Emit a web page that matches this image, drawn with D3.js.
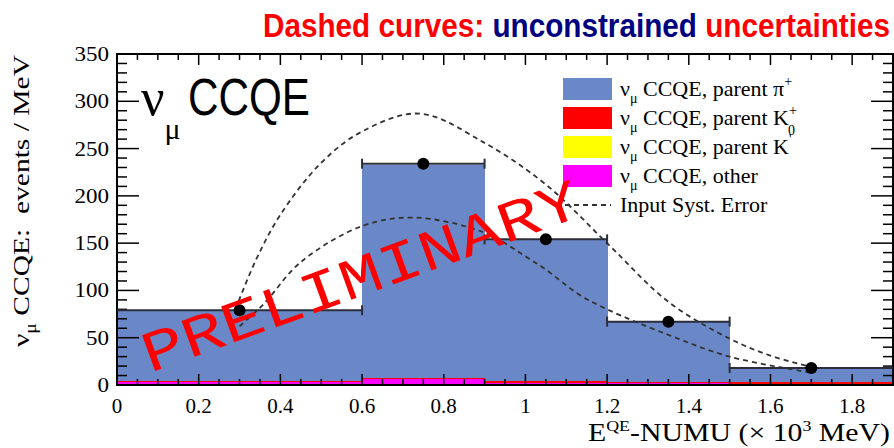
<!DOCTYPE html>
<html>
<head>
<meta charset="utf-8">
<script src="https://cdn.jsdelivr.net/npm/d3@7"></script>
<style>
  body { margin: 0; background: #fff; }
  svg { display: block; }
</style>
</head>
<body>
<div id="chart"></div>
<script>
// bin edges (x 10^3 MeV) and stacked components per bin
var binEdges = [0, 0.6, 0.9, 1.2, 1.5, 1.9];
var otherVals = [3, 6, 2.5, 1.8, 0.5];
var kZeroVals = [0, 0, 0, 0, 0];
var kPlusVals = [1, 1, 1.4, 1.8, 2.5];
var piPlusVals = [75, 226, 149.1, 63.4, 15];

// data points
var pointX = [0.3, 0.75, 1.05, 1.35, 1.7];
var pointY = [79, 234, 154, 67, 18];

// dashed "input syst. error" curves
var upperX = [0.29, 0.34, 0.4, 0.5, 0.6, 0.74, 0.9, 1.05, 1.2, 1.35, 1.5, 1.6, 1.7];
var upperY = [80, 132, 180, 235, 268, 287, 256, 212, 150, 88, 49, 31, 19];
var lowerX = [0.3, 0.36, 0.45, 0.6, 0.73, 0.9, 1.0, 1.05, 1.13, 1.2, 1.35, 1.5, 1.7];
var lowerY = [62, 86, 130, 168, 177, 161, 136, 122, 96, 80, 53, 30, 13];

var xTicks = [0, 0.2, 0.4, 0.6, 0.8, 1, 1.2, 1.4, 1.6, 1.8];
var yTicks = [0, 50, 100, 150, 200, 250, 300, 350];

var width = 894,
    height = 448,
    margin = {top: 54, right: 1, bottom: 63, left: 117};

var svg = d3.select("#chart")
    .append("svg")
    .attr("width", width)
    .attr("height", height);

var x = d3.scaleLinear().domain([0, 1.9]).range([margin.left, width - margin.right]);
var y = d3.scaleLinear().domain([0, 350]).range([height - margin.bottom, margin.top]);

var serif = "'Liberation Serif', 'DejaVu Serif', serif";
var sans = "'Liberation Sans', Arial, sans-serif";

var blue = "#6a88c7";

// stacked histogram, bottom to top: other, K0, K+, pi+
var layers = [
    {vals: otherVals, color: "#ff00ff"},
    {vals: kZeroVals, color: "#ffff00"},
    {vals: kPlusVals, color: "#ff0000"},
    {vals: piPlusVals, color: blue}
];
var bins = d3.range(binEdges.length - 1).map(i => {
    var b = {i: i, x0: binEdges[i], x1: binEdges[i + 1], parts: []};
    var base = 0;
    layers.forEach(l => {
        b.parts.push({y0: base, y1: base + l.vals[i], color: l.color});
        base += l.vals[i];
    });
    return b;
});

var histo = svg.append("g").attr("id", "histo").attr("shape-rendering", "crispEdges");
[3, 2, 1, 0].forEach(li => {
    histo.selectAll(null)
        .data(bins)
        .enter()
        .append("rect")
        .attr("x", d => x(d.x0))
        .attr("width", d => x(d.x1) - x(d.x0) + 0.5)
        .attr("y", d => y(d.parts[li].y1))
        .attr("height", d => Math.max(0, y(d.parts[li].y0) - y(d.parts[li].y1)))
        .attr("fill", layers[li].color);
});

// axis ticks (inside, on all four sides)
var frame = svg.append("g").attr("stroke", "#000");
var xMinor = d3.range(0, 1.9001, 0.05);
xMinor.forEach(v => {
    var major = Math.abs(v / 0.2 - Math.round(v / 0.2)) < 1e-6;
    var len = major ? 11 : 6;
    frame.append("line").attr("x1", x(v)).attr("x2", x(v))
        .attr("y1", y(0)).attr("y2", y(0) - len).attr("stroke-width", 1.5);
    frame.append("line").attr("x1", x(v)).attr("x2", x(v))
        .attr("y1", y(350)).attr("y2", y(350) + len).attr("stroke-width", 1.5);
});
d3.range(0, 351, 10).forEach(v => {
    var len = v % 50 === 0 ? 22 : 10;
    frame.append("line").attr("x1", x(0)).attr("x2", x(0) + len)
        .attr("y1", y(v)).attr("y2", y(v)).attr("stroke-width", 1.5);
    frame.append("line").attr("x1", x(1.9)).attr("x2", x(1.9) - len)
        .attr("y1", y(v)).attr("y2", y(v)).attr("stroke-width", 1.5);
});
frame.append("rect")
    .attr("x", x(0)).attr("y", y(350))
    .attr("width", x(1.9) - x(0)).attr("height", y(0) - y(350))
    .attr("fill", "none").attr("stroke-width", 2);

// tick labels
svg.append("g").selectAll("text")
    .data(xTicks)
    .enter()
    .append("text")
    .attr("x", d => x(d))
    .attr("y", 413)
    .attr("text-anchor", "middle")
    .attr("font-family", serif)
    .attr("font-size", "21px")
    .text(d => d);

svg.append("g").selectAll("text")
    .data(yTicks)
    .enter()
    .append("text")
    .attr("x", 109)
    .attr("y", d => y(d) + 7)
    .attr("text-anchor", "end")
    .attr("font-family", serif)
    .attr("font-size", "21px")
    .attr("textLength", d => String(d).length * 11.5)
    .attr("lengthAdjust", "spacingAndGlyphs")
    .text(d => d);

// dashed curves
var line = d3.line()
    .x(d => x(d[0]))
    .y(d => y(d[1]))
    .curve(d3.curveCatmullRom);
[[upperX, upperY], [lowerX, lowerY]].forEach(c => {
    svg.append("path")
        .datum(c[0].map((v, i) => [v, c[1][i]]))
        .attr("d", line)
        .attr("fill", "none")
        .attr("stroke", "#333")
        .attr("stroke-width", 1.8)
        .attr("stroke-dasharray", "5,4");
});

// data points with horizontal bin-width bars
var pts = svg.append("g").attr("id", "points");
pointX.forEach((px, i) => {
    var x0 = binEdges[i], x1 = binEdges[i + 1];
    pts.append("line")
        .attr("x1", x(x0)).attr("x2", x(x1))
        .attr("y1", y(pointY[i])).attr("y2", y(pointY[i]))
        .attr("stroke", "#2b2d3a").attr("stroke-width", 2);
    [x0, x1].forEach(e => {
        if (e === 0 || e === 1.9) return;
        pts.append("line")
            .attr("x1", x(e)).attr("x2", x(e))
            .attr("y1", y(pointY[i]) - 5).attr("y2", y(pointY[i]) + 5)
            .attr("stroke", "#2b2d3a").attr("stroke-width", 2);
    });
    pts.append("circle")
        .attr("cx", x(px)).attr("cy", y(pointY[i]))
        .attr("r", 6).attr("fill", "#000");
});

// legend
var legendRows = [
    {color: blue, label: "parent \u03c0", sup: "+"},
    {color: "#ff0000", label: "parent K", sup: "+", sub: "0"},
    {color: "#ffff00", label: "parent K", sup: "'"},
    {color: "#ff00ff", label: "other"}
];
var legend = svg.append("g").attr("class", "legend")
    .attr("font-family", serif).attr("font-size", "22px");
legendRows.forEach((r, i) => {
    var cy = 89 + i * 29;
    legend.append("rect")
        .attr("x", 563).attr("y", cy - 11)
        .attr("width", 49).attr("height", 22)
        .attr("fill", r.color);
    var t = legend.append("text").attr("x", 620).attr("y", cy + 7);
    t.append("tspan").text("\u03bd");
    t.append("tspan").attr("dy", 7).attr("font-size", "14px").text("\u03bc");
    t.append("tspan").attr("dy", -7).text(" CCQE, " + r.label);
    if (r.sup) t.append("tspan").attr("dy", -10).attr("font-size", "14px").text(r.sup);
    if (r.sub) t.append("tspan").attr("dx", -9).attr("dy", 20).attr("font-size", "14px").text(r.sub);
});
legend.append("line")
    .attr("x1", 565).attr("x2", 611)
    .attr("y1", 205).attr("y2", 205)
    .attr("stroke", "#333").attr("stroke-width", 1.8)
    .attr("stroke-dasharray", "5,4");
legend.append("text").attr("x", 620).attr("y", 212).text("Input Syst. Error");

// big nu_mu CCQE label
var big = svg.append("text").attr("x", 141).attr("y", 115);
big.append("tspan").attr("font-family", serif).attr("font-size", "52px").text("\u03bd");
big.append("tspan").attr("font-family", serif).attr("font-size", "30px")
    .attr("dy", 24).text("\u03bc");
big.append("tspan").attr("x", 188).attr("dy", -24)
    .attr("font-family", sans).attr("font-size", "52px")
    .attr("textLength", 122).attr("lengthAdjust", "spacingAndGlyphs")
    .text("CCQE");

// y axis title
var yt = svg.append("text")
    .attr("transform", "translate(29,347) rotate(-90)")
    .attr("font-family", serif).attr("font-size", "24px")
    .attr("textLength", 292).attr("lengthAdjust", "spacingAndGlyphs");
yt.append("tspan").text("\u03bd");
yt.append("tspan").attr("dy", 7).attr("font-size", "16px").text("\u03bc");
yt.append("tspan").attr("dy", -7).text("\u00a0CCQE:\u00a0\u00a0events / MeV");

// x axis title
var xt = svg.append("text")
    .attr("x", 890).attr("y", 441)
    .attr("text-anchor", "end")
    .attr("font-family", serif).attr("font-size", "25px")
    .attr("textLength", 302).attr("lengthAdjust", "spacingAndGlyphs");
xt.append("tspan").text("E");
xt.append("tspan").attr("dy", -10).attr("font-size", "15px").text("QE");
xt.append("tspan").attr("dy", 10).text("-NUMU (\u00d7 10");
xt.append("tspan").attr("dy", -10).attr("font-size", "15px").text("3");
xt.append("tspan").attr("dy", 10).text(" MeV)");

// PRELIMINARY stamp
svg.append("text")
    .attr("transform", "translate(150,373) rotate(-20)")
    .attr("font-family", "'Liberation Mono', 'DejaVu Sans Mono', monospace")
    .attr("font-size", "58px")
    .attr("fill", "#ff0000")
    .attr("textLength", 462)
    .attr("lengthAdjust", "spacingAndGlyphs")
    .text("PRELIMINARY");

// title
var title = svg.append("text")
    .attr("x", 263).attr("y", 37)
    .attr("font-family", sans).attr("font-size", "34px").attr("font-weight", "bold")
    .attr("textLength", 627).attr("lengthAdjust", "spacingAndGlyphs");
title.append("tspan").attr("fill", "#ff0000").text("Dashed curves: ");
title.append("tspan").attr("fill", "#000080").text("unconstrained ");
title.append("tspan").attr("fill", "#ff0000").text("uncertainties");
</script>
</body>
</html>
